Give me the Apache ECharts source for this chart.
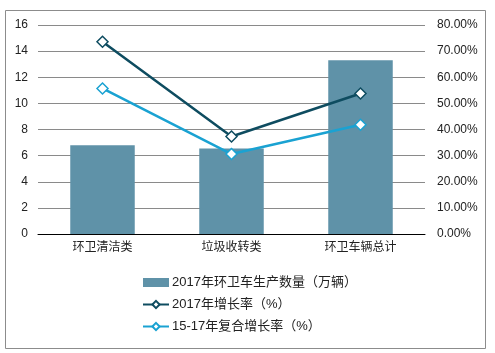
<!DOCTYPE html>
<html>
<head>
<meta charset="utf-8">
<script src="https://cdn.jsdelivr.net/npm/echarts@6/dist/echarts.min.js"></script>
<style>
  html, body { margin: 0; padding: 0; background: #fff; }
  #main { width: 495px; height: 353px; }
</style>
</head>
<body>
<div id="main"></div>
<script>
var categories = ['环卫清洁类', '垃圾收转类', '环卫车辆总计'];
var output2017 = [6.8, 6.55, 13.3];
var growth2017 = [73.6, 37.3, 53.8];
var cagr1517 = [55.7, 30.6, 41.8];

var font = 'Arial, "Liberation Sans", "Noto Sans CJK SC"';
var chart = echarts.init(document.getElementById('main'));

var option = {
  backgroundColor: '#fff',
  animation: false,
  textStyle: { fontFamily: font },
  graphic: [{
    type: 'rect',
    shape: { x: 5.5, y: 10.5, width: 480, height: 338 },
    style: { fill: 'none', stroke: '#8c8c8c', lineWidth: 1 },
    silent: true
  }],
  grid: { left: 38, right: 70, top: 25, bottom: 119 },
  legend: {
    orient: 'vertical',
    left: 137,
    top: 271,
    itemWidth: 26,
    itemHeight: 9,
    itemGap: 9,
    textStyle: { fontSize: 13, color: '#222', fontFamily: font, padding: [0, 0, 0, -2] },
    data: [
      { name: '2017年环卫车生产数量（万辆）', icon: 'rect' },
      '2017年增长率（%）',
      '15-17年复合增长率（%）'
    ]
  },
  xAxis: {
    type: 'category',
    data: categories,
    axisLine: { lineStyle: { color: '#000', width: 1 } },
    axisTick: { show: false },
    axisLabel: { color: '#222', fontSize: 12, margin: 8 }
  },
  yAxis: [{
    type: 'value',
    min: 0, max: 16, interval: 2,
    axisLine: { show: false },
    axisTick: { show: false },
    axisLabel: { color: '#222', fontSize: 12, margin: 10 },
    splitLine: { lineStyle: { color: '#8a8a8a', width: 1 } }
  }, {
    type: 'value',
    min: 0, max: 80, interval: 10,
    axisLine: { show: false },
    axisTick: { show: false },
    axisLabel: {
      color: '#222', fontSize: 12, margin: 12,
      formatter: function (v) { return v.toFixed(2) + '%'; }
    },
    splitLine: { show: false }
  }],
  series: [{
    name: '2017年环卫车生产数量（万辆）',
    type: 'bar',
    data: output2017,
    barWidth: '50%',
    itemStyle: { color: '#5f92a8' }
  }, {
    name: '2017年增长率（%）',
    type: 'line',
    yAxisIndex: 1,
    data: growth2017,
    symbol: 'diamond',
    symbolSize: 11,
    lineStyle: { color: '#0e4c60', width: 2.5 },
    itemStyle: { color: '#fff', borderColor: '#0e4c60', borderWidth: 1.5 }
  }, {
    name: '15-17年复合增长率（%）',
    type: 'line',
    yAxisIndex: 1,
    data: cagr1517,
    symbol: 'diamond',
    symbolSize: 11,
    lineStyle: { color: '#1aa2d2', width: 2.5 },
    itemStyle: { color: '#fff', borderColor: '#1aa2d2', borderWidth: 1.5 }
  }]
};

chart.setOption(option);
window.onresize = chart.resize;
</script>
</body>
</html>
